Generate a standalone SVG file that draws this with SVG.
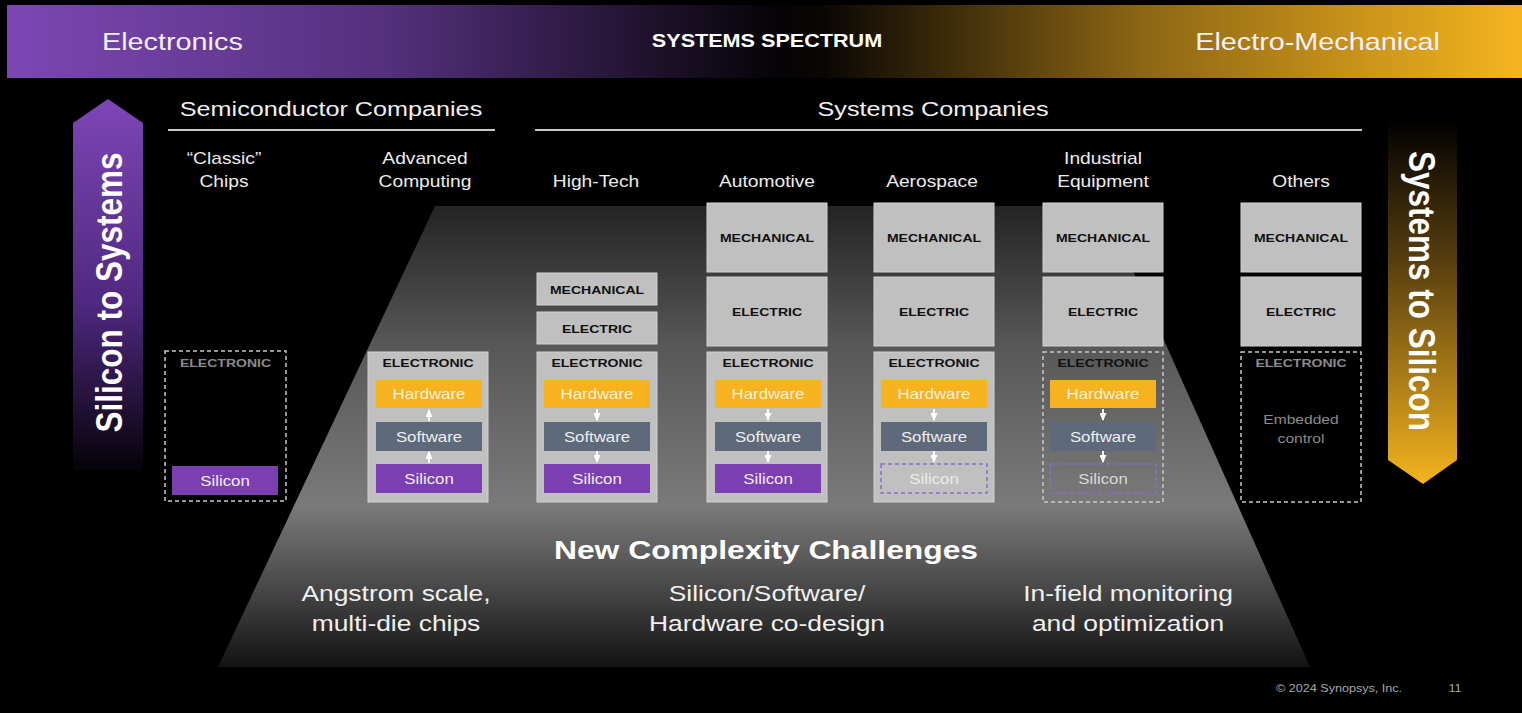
<svg xmlns="http://www.w3.org/2000/svg" width="1522" height="713" viewBox="0 0 1522 713">
<defs>
<linearGradient id="banner" x1="7" y1="0" x2="1522" y2="0" gradientUnits="userSpaceOnUse">
<stop offset="0" stop-color="#7c47b4"/>
<stop offset="0.25" stop-color="#55307d"/>
<stop offset="0.51" stop-color="#050306"/>
<stop offset="0.54" stop-color="#0a0703"/>
<stop offset="0.75" stop-color="#8d6614"/>
<stop offset="1" stop-color="#f6b51f"/>
</linearGradient>
<linearGradient id="trap" x1="0" y1="206" x2="0" y2="667" gradientUnits="userSpaceOnUse">
<stop offset="0" stop-color="#242424"/>
<stop offset="0.3" stop-color="#575757"/>
<stop offset="0.65" stop-color="#7a7a7a"/>
<stop offset="0.82" stop-color="#4a4a4a"/>
<stop offset="1" stop-color="#131313"/>
</linearGradient>
<linearGradient id="upArrow" x1="0" y1="99" x2="0" y2="472" gradientUnits="userSpaceOnUse">
<stop offset="0" stop-color="#7d46b6"/>
<stop offset="0.55" stop-color="#4f2880"/>
<stop offset="1" stop-color="#040206"/>
</linearGradient>
<linearGradient id="downArrow" x1="0" y1="118" x2="0" y2="484" gradientUnits="userSpaceOnUse">
<stop offset="0" stop-color="#000000"/>
<stop offset="0.4" stop-color="#5a4010"/>
<stop offset="1" stop-color="#f5b41f"/>
</linearGradient>
<marker id="ah" markerUnits="userSpaceOnUse" markerWidth="8" markerHeight="7" viewBox="0 0 8 7" refX="7" refY="3.5" orient="auto">
<path d="M0,0 L8,3.5 L0,7 z" fill="#ffffff"/>
</marker>
<style>
text{font-family:"Liberation Sans",Arial,sans-serif}
.mid{text-anchor:middle}
.ban{fill:#f4f0f8;font-size:24px}
.banb{fill:#ffffff;font-size:18px;font-weight:bold}
.hdr{fill:#f0f0f0;font-size:21px;text-anchor:middle}
.col{fill:#ececec;font-size:16px;text-anchor:middle}
.big{fill:#ffffff;font-size:31.5px;font-weight:bold;text-anchor:middle}
.lbl{fill:#111111;font-size:11.7px;font-weight:bold;text-anchor:middle}
.lblg{fill:#8a8a8a;font-size:11.7px;font-weight:bold;text-anchor:middle}
.in{font-size:14px;text-anchor:middle}
.box{fill:#c0c0c0;stroke:#d2d2d2;stroke-width:1}
.dash{fill:none;stroke:#c8c8c8;stroke-width:1.5;stroke-dasharray:4 3}
.hw{fill:#f6b21f}
.sw{fill:#5e6a7b}
.si{fill:#7b3fb1}
.sid{fill:none;stroke:#8f6cc4;stroke-width:1.5;stroke-dasharray:4 3}
.ttl{fill:#ffffff;font-size:26.5px;font-weight:bold;text-anchor:middle}
.sub{fill:#f0f0f0;font-size:22px;text-anchor:middle}
.rule{stroke:#c8c8c8;stroke-width:2}
.conn{stroke:#ffffff;stroke-width:1.8;marker-end:url(#ah)}
</style>
</defs>
<rect width="1522" height="713" fill="#000000"/>

<g id="banner">
<rect x="7" y="5" width="1515" height="73" fill="url(#banner)"/>
<text class="ban" transform="translate(102 50) scale(1.2 1)">Electronics</text>
<text class="banb mid" transform="translate(767 47) scale(1.2 1)">SYSTEMS SPECTRUM</text>
<text class="ban" text-anchor="end" transform="translate(1440 50) scale(1.2 1)">Electro-Mechanical</text>
</g>

<g id="trapezoid">
<polygon points="435,206 1104,206 1310,667 218,667" fill="url(#trap)"/>
</g>

<g id="silicon-to-systems">
<path d="M73,470 L73,123 L108,99 L143,123 L143,470 Z" fill="url(#upArrow)"/>
<text class="big" transform="translate(122 292.5) scale(1.2 1) rotate(-90)">Silicon to Systems</text>
</g>

<g id="systems-to-silicon">
<path d="M1388,118 L1457,118 L1457,460 L1423,484 L1388,460 Z" fill="url(#downArrow)"/>
<text class="big" transform="translate(1409 291) scale(1.2 1) rotate(90)">Systems to Silicon</text>
</g>

<g id="headers">
<text class="hdr" transform="translate(331 116) scale(1.2 1)">Semiconductor Companies</text>
<line class="rule" x1="168" y1="130" x2="495" y2="130"/>
<text class="hdr" transform="translate(933 116) scale(1.2 1)">Systems Companies</text>
<line class="rule" x1="535" y1="130" x2="1362" y2="130"/>
</g>

<g id="classic-chips">
<text class="col" transform="translate(224 164) scale(1.2 1)">“Classic”<tspan x="0" dy="23">Chips</tspan></text>
<rect class="dash" x="165" y="351" width="121" height="150"/>
<text class="lblg" transform="translate(225.5 367) scale(1.2 1)">ELECTRONIC</text>
<rect class="si" x="172" y="466" width="106" height="29"/>
<text class="in" fill="#f2ecf8" transform="translate(225 485.5) scale(1.2 1)">Silicon</text>
</g>

<g id="advanced-computing">
<text class="col" transform="translate(425 164) scale(1.2 1)">Advanced<tspan x="0" dy="23">Computing</tspan></text>
<rect class="box" x="368" y="352" width="120" height="150"/>
<text class="lbl" transform="translate(428 367) scale(1.2 1)">ELECTRONIC</text>
<rect class="hw" x="376" y="380" width="106" height="28"/>
<text class="in" fill="#fcf0dc" transform="translate(429 399) scale(1.2 1)">Hardware</text>
<rect class="sw" x="376" y="422" width="106" height="29"/>
<text class="in" fill="#eeeeee" transform="translate(429 441.5) scale(1.2 1)">Software</text>
<rect class="si" x="376" y="464" width="106" height="29"/>
<text class="in" fill="#f2ecf8" transform="translate(429 483.5) scale(1.2 1)">Silicon</text>
</g>

<g id="high-tech">
<text class="col" transform="translate(596 187) scale(1.2 1)">High-Tech</text>
<rect class="box" x="537" y="273" width="120" height="32"/>
<text class="lbl" transform="translate(597 293.5) scale(1.2 1)">MECHANICAL</text>
<rect class="box" x="537" y="312" width="120" height="32"/>
<text class="lbl" transform="translate(597 332.5) scale(1.2 1)">ELECTRIC</text>
<rect class="box" x="537" y="352" width="120" height="150"/>
<text class="lbl" transform="translate(597 367) scale(1.2 1)">ELECTRONIC</text>
<rect class="hw" x="544" y="380" width="106" height="28"/>
<text class="in" fill="#fcf0dc" transform="translate(597 399) scale(1.2 1)">Hardware</text>
<rect class="sw" x="544" y="422" width="106" height="29"/>
<text class="in" fill="#eeeeee" transform="translate(597 441.5) scale(1.2 1)">Software</text>
<rect class="si" x="544" y="464" width="106" height="29"/>
<text class="in" fill="#f2ecf8" transform="translate(597 483.5) scale(1.2 1)">Silicon</text>
</g>

<g id="automotive">
<text class="col" transform="translate(767 187) scale(1.2 1)">Automotive</text>
<rect class="box" x="707" y="203" width="120" height="69"/>
<text class="lbl" transform="translate(767 242) scale(1.2 1)">MECHANICAL</text>
<rect class="box" x="707" y="277" width="120" height="69"/>
<text class="lbl" transform="translate(767 316) scale(1.2 1)">ELECTRIC</text>
<rect class="box" x="707" y="352" width="120" height="150"/>
<text class="lbl" transform="translate(768 367) scale(1.2 1)">ELECTRONIC</text>
<rect class="hw" x="715" y="380" width="106" height="28"/>
<text class="in" fill="#fcf0dc" transform="translate(768 399) scale(1.2 1)">Hardware</text>
<rect class="sw" x="715" y="422" width="106" height="29"/>
<text class="in" fill="#eeeeee" transform="translate(768 441.5) scale(1.2 1)">Software</text>
<rect class="si" x="715" y="464" width="106" height="29"/>
<text class="in" fill="#f2ecf8" transform="translate(768 483.5) scale(1.2 1)">Silicon</text>
</g>

<g id="aerospace">
<text class="col" transform="translate(932 187) scale(1.2 1)">Aerospace</text>
<rect class="box" x="874" y="203" width="120" height="69"/>
<text class="lbl" transform="translate(934 242) scale(1.2 1)">MECHANICAL</text>
<rect class="box" x="874" y="277" width="120" height="69"/>
<text class="lbl" transform="translate(934 316) scale(1.2 1)">ELECTRIC</text>
<rect class="box" x="874" y="352" width="120" height="150"/>
<text class="lbl" transform="translate(934 367) scale(1.2 1)">ELECTRONIC</text>
<rect class="hw" x="881" y="380" width="106" height="28"/>
<text class="in" fill="#fcf0dc" transform="translate(934 399) scale(1.2 1)">Hardware</text>
<rect class="sw" x="881" y="422" width="106" height="29"/>
<text class="in" fill="#eeeeee" transform="translate(934 441.5) scale(1.2 1)">Software</text>
<rect class="sid" x="881" y="464" width="106" height="29"/>
<text class="in" fill="#ececec" transform="translate(934 483.5) scale(1.2 1)">Silicon</text>
</g>

<g id="industrial-equipment">
<text class="col" transform="translate(1103 164) scale(1.2 1)">Industrial<tspan x="0" dy="23">Equipment</tspan></text>
<rect class="box" x="1043" y="203" width="120" height="69"/>
<text class="lbl" transform="translate(1103 242) scale(1.2 1)">MECHANICAL</text>
<rect class="box" x="1043" y="277" width="120" height="69"/>
<text class="lbl" transform="translate(1103 316) scale(1.2 1)">ELECTRIC</text>
<rect class="dash" x="1043" y="352" width="120" height="150"/>
<text class="lbl" transform="translate(1103 367) scale(1.2 1)">ELECTRONIC</text>
<rect class="hw" x="1050" y="380" width="106" height="28"/>
<text class="in" fill="#fcf0dc" transform="translate(1103 399) scale(1.2 1)">Hardware</text>
<rect class="sw" x="1050" y="422" width="106" height="29"/>
<text class="in" fill="#eeeeee" transform="translate(1103 441.5) scale(1.2 1)">Software</text>
<rect class="sid" x="1050" y="464" width="106" height="29"/>
<text class="in" fill="#d8d8d8" transform="translate(1103 483.5) scale(1.2 1)">Silicon</text>
</g>

<g id="others">
<text class="col" transform="translate(1301 187) scale(1.2 1)">Others</text>
<rect class="box" x="1241" y="203" width="120" height="69"/>
<text class="lbl" transform="translate(1301 242) scale(1.2 1)">MECHANICAL</text>
<rect class="box" x="1241" y="277" width="120" height="69"/>
<text class="lbl" transform="translate(1301 316) scale(1.2 1)">ELECTRIC</text>
<rect class="dash" x="1241" y="352" width="120" height="150"/>
<text class="lblg" transform="translate(1301 367) scale(1.2 1)">ELECTRONIC</text>
<text class="in" fill="#8a8a8a" font-size="13px" transform="translate(1301 424) scale(1.2 1)" style="font-size:13px">Embedded<tspan x="0" dy="19">control</tspan></text>
</g>

<g id="connectors">
<line class="conn" x1="429" y1="463" x2="429" y2="452"/>
<line class="conn" x1="429" y1="421" x2="429" y2="410"/>
<line class="conn" x1="597" y1="409" x2="597" y2="420"/>
<line class="conn" x1="597" y1="451" x2="597" y2="462"/>
<line class="conn" x1="768" y1="409" x2="768" y2="420"/>
<line class="conn" x1="768" y1="451" x2="768" y2="462"/>
<line class="conn" x1="934" y1="409" x2="934" y2="420"/>
<line class="conn" x1="934" y1="451" x2="934" y2="462"/>
<line class="conn" x1="1103" y1="409" x2="1103" y2="420"/>
<line class="conn" x1="1103" y1="451" x2="1103" y2="462"/>
</g>

<g id="challenges">
<text class="ttl" transform="translate(766 559) scale(1.2 1)">New Complexity Challenges</text>
<text class="sub" transform="translate(396 601) scale(1.2 1)">Angstrom scale,<tspan x="0" dy="30">multi-die chips</tspan></text>
<text class="sub" transform="translate(767 601) scale(1.2 1)">Silicon/Software/<tspan x="0" dy="30">Hardware co-design</tspan></text>
<text class="sub" transform="translate(1128 601) scale(1.2 1)">In-field monitoring<tspan x="0" dy="30">and optimization</tspan></text>
</g>

<g id="footer">
<text fill="#a8a8a8" font-size="10.5px" transform="translate(1276 692) scale(1.2 1)" style="font-size:10.5px">© 2024 Synopsys, Inc.</text>
<text fill="#a8a8a8" class="mid" transform="translate(1455 692) scale(1.2 1)" style="font-size:10.5px">11</text>
</g>
</svg>
